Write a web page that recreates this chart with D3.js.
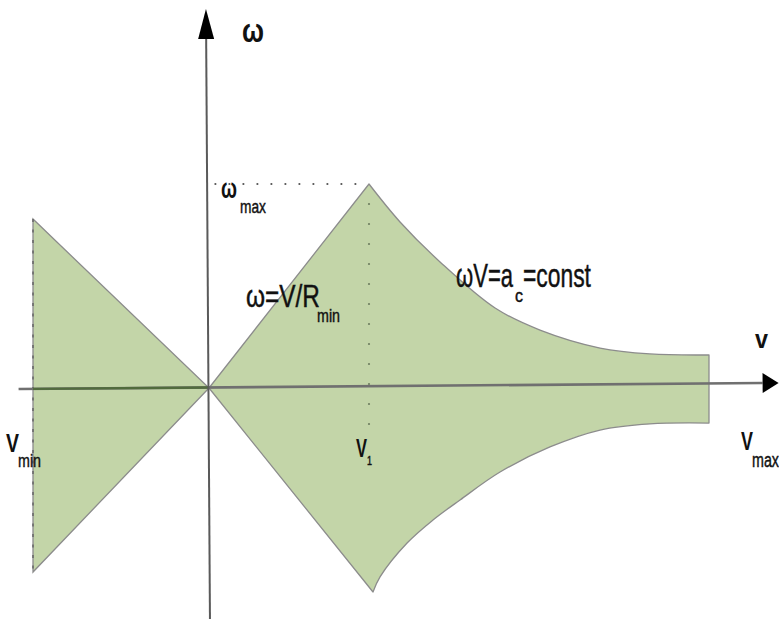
<!DOCTYPE html>
<html>
<head>
<meta charset="utf-8">
<script src="https://cdn.jsdelivr.net/npm/d3@7"></script>
<style>
  html, body { margin: 0; padding: 0; background: #fff; }
  svg { display: block; }
</style>
</head>
<body>
<svg id="chart" width="779" height="619"></svg>
<script>
// Admissible region of angular rate ω against forward speed v.
const vMin = -1.1, v1 = 1.0, vMax = 3.125;
const omegaMax = 1.0;
// ω limits reached at the reverse speed vMin
const reverseOmega = [0.828, -0.902];
// boundary beyond v1, where ωV = a_c
const upperV     = [1.0, 1.194, 1.444, 1.788, 2.069, 2.444, 2.756, vMax];
const upperOmega = [1.0, 0.814, 0.618, 0.392, 0.284, 0.196, 0.167, 0.162];
const lowerV     = [1.025, 1.069, 1.238, 1.4, 1.569, 1.819, 2.131, 2.444, 2.756, vMax];
const lowerOmega = [-1.0, -0.926, -0.760, -0.647, -0.549, -0.412, -0.289, -0.206, -0.176, -0.172];
// axis end points (v, ω); the hand-drawn axes lean very slightly
const xAxisEnds = [[-1.19, -0.005], [3.56, 0.025]];
const yAxisEnds = [[0.006, -1.132], [-0.019, 1.858]];
// extent of the dotted guides
const guideStartV = 0.04, guideEndOmega = -0.25;

const svg = d3.select("#chart");
const x = d3.scaleLinear().domain([0, v1]).range([209, 369]);
const y = d3.scaleLinear().domain([0, omegaMax]).range([388, 184]);

const straight = d3.line().x(d => x(d[0])).y(d => y(d[1]));
const smooth = d3.line().x(d => x(d[0])).y(d => y(d[1])).curve(d3.curveCatmullRom.alpha(0.5));

const upperPts = upperV.map((v, i) => [v, upperOmega[i]]);
const lowerPts = lowerV.map((v, i) => [v, lowerOmega[i]]);

// chain several path pieces into one continuous outline
function chain(pieces) {
  return pieces.map((p, i) => (i ? "L" + p.slice(1) : p)).join("") + "Z";
}

const FILL = "#c3d5a8", EDGE = "#8c8c8c";

// reverse-speed wedge
svg.append("path")
  .attr("d", chain([straight([[vMin, reverseOmega[0]], [0, 0], [vMin, reverseOmega[1]]])]))
  .attr("fill", FILL).attr("stroke", EDGE).attr("stroke-width", 1.3);

// forward-speed region
svg.append("path")
  .attr("d", chain([
    straight([[0, 0], upperPts[0]]),
    smooth(upperPts),
    straight([upperPts[upperPts.length - 1], lowerPts[lowerPts.length - 1]]),
    smooth(lowerPts.slice().reverse()),
    straight([lowerPts[0], [0, 0]])
  ]))
  .attr("fill", FILL).attr("stroke", EDGE).attr("stroke-width", 1.3)
  .attr("stroke-linejoin", "round");

// dashed edge at vMin
svg.append("line")
  .attr("x1", x(vMin)).attr("y1", y(reverseOmega[0]))
  .attr("x2", x(vMin)).attr("y2", y(reverseOmega[1]))
  .attr("stroke", "#6a6a6a").attr("stroke-width", 1.6)
  .attr("stroke-dasharray", "3 7.5");

// dotted guides to ω_max and v1
svg.append("line")
  .attr("x1", x(guideStartV)).attr("y1", y(omegaMax))
  .attr("x2", x(v1)).attr("y2", y(omegaMax))
  .attr("stroke", "#555").attr("stroke-width", 2.2)
  .attr("stroke-linecap", "round").attr("stroke-dasharray", "0 14");
svg.append("line")
  .attr("x1", x(v1)).attr("y1", y(omegaMax) + 20)
  .attr("x2", x(v1)).attr("y2", y(guideEndOmega))
  .attr("stroke", "#6f7f60").attr("stroke-width", 2.2)
  .attr("stroke-linecap", "round").attr("stroke-dasharray", "0 20");

// axis with a solid arrow head
function arrowAxis(ends, headLen, headHalf, color, width) {
  const p0 = [x(ends[0][0]), y(ends[0][1])];
  const tip = [x(ends[1][0]), y(ends[1][1])];
  const dx = tip[0] - p0[0], dy = tip[1] - p0[1];
  const len = Math.hypot(dx, dy);
  const u = [dx / len, dy / len], n = [-u[1], u[0]];
  const base = [tip[0] - u[0] * headLen, tip[1] - u[1] * headLen];
  svg.append("line")
    .attr("x1", p0[0]).attr("y1", p0[1]).attr("x2", base[0]).attr("y2", base[1])
    .attr("stroke", color).attr("stroke-width", width);
  svg.append("path")
    .attr("d", `M${tip[0]},${tip[1]}L${base[0] + n[0] * headHalf},${base[1] + n[1] * headHalf}` +
               `L${base[0] - n[0] * headHalf},${base[1] - n[1] * headHalf}Z`)
    .attr("fill", "#000");
  return { p0, tip };
}

const xa = arrowAxis(xAxisEnds, 16, 10, "#707070", 2.6);
// the part of the v axis inside the reverse wedge is drawn darker
{
  const t = v => (x(v) - xa.p0[0]) / (xa.tip[0] - xa.p0[0]);
  const yAt = v => xa.p0[1] + t(v) * (xa.tip[1] - xa.p0[1]);
  svg.append("line")
    .attr("x1", x(vMin)).attr("y1", yAt(vMin))
    .attr("x2", x(0)).attr("y2", yAt(0))
    .attr("stroke", "#516b3d").attr("stroke-width", 2.4);
}
arrowAxis(yAxisEnds, 30, 8, "#5a5a5a", 2);

// text labels, narrowed to the drawn width
function label(txt, left, base, size, width, heavy) {
  const t = svg.append("text")
    .attr("font-family", "'Liberation Sans', Arial, sans-serif")
    .attr("font-size", size)
    .attr("font-weight", heavy ? "bold" : "normal")
    .attr("fill", "#111")
    .attr("stroke", "#111")
    .attr("stroke-width", heavy ? 0 : 0.45)
    .text(txt);
  const w = t.node().getComputedTextLength();
  t.attr("transform", `translate(${left},${base}) scale(${width / w},1)`);
}

label("ω", 242, 42, 34, 22, true);
label("ω", 221, 198, 28, 16, true);
label("max", 240, 213, 19, 26);
label("ω=V/R", 246, 307, 32, 74);
label("min", 317, 322, 19, 23);
label("ωV=a", 456, 287, 33, 57);
label("c", 515, 302, 19, 8);
label("=const", 523, 287, 33, 68);
label("v", 755, 348, 26, 13, true);
label("V", 741, 450, 25, 12, true);
label("max", 752, 467, 20, 27);
label("V", 6, 452, 26, 13, true);
label("min", 18, 467, 19, 23);
label("V", 356, 457, 26, 11, true);
label("1", 367, 465, 12, 5);
</script>
</body>
</html>
